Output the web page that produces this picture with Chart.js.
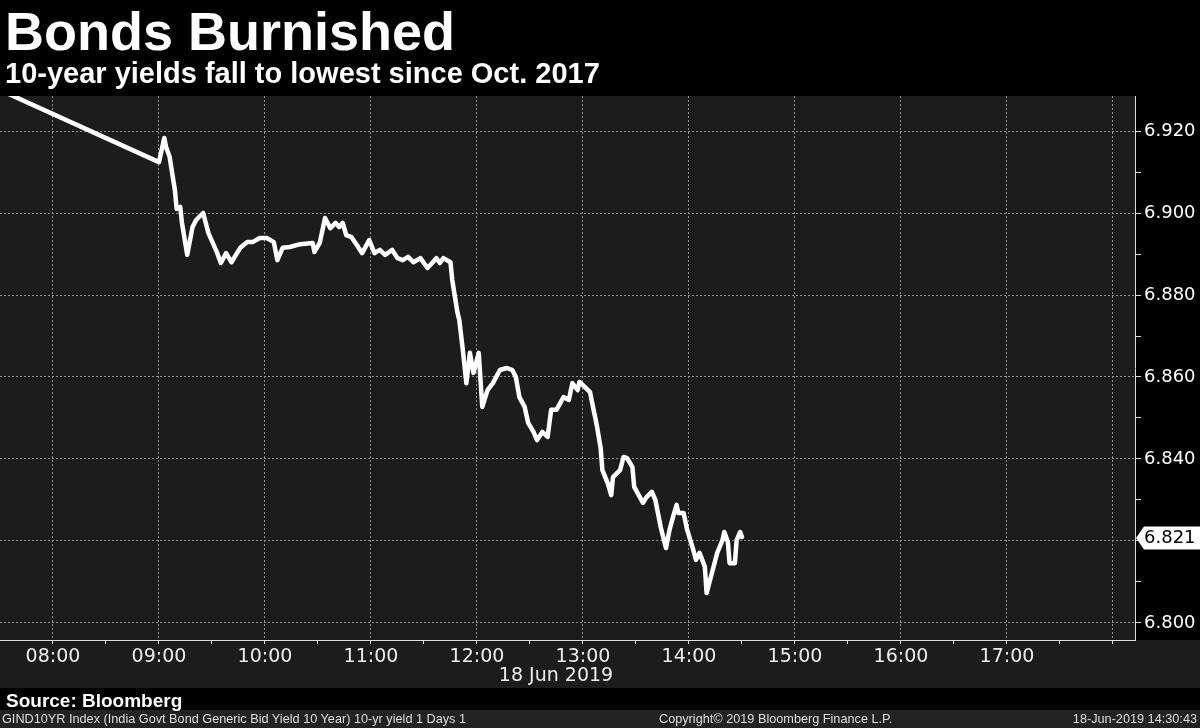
<!DOCTYPE html>
<html><head><meta charset="utf-8">
<script src="https://cdn.jsdelivr.net/npm/chart.js@4/dist/chart.umd.min.js"></script>
<style>
html,body{margin:0;padding:0;background:#000;width:1200px;height:728px;overflow:hidden;}
#wrap{position:relative;width:1200px;height:728px;}
canvas{position:absolute;left:0;top:0;}
#fband{position:absolute;left:0;top:710px;width:1200px;height:18px;background:#232323;}
.t{position:absolute;white-space:nowrap;font-family:"Liberation Sans",Arial,sans-serif;color:#fff;}
#title{left:5px;top:4px;font-size:54px;line-height:54px;font-weight:bold;}
#sub{left:5px;top:59px;font-size:29px;line-height:29px;font-weight:bold;}
#src{left:6px;top:691px;font-size:19px;line-height:19px;font-weight:bold;}
.f{top:713px;font-size:12.7px;line-height:13px;color:#dedede;}
</style></head>
<body><div id="wrap">
<div id="fband"></div>
<canvas id="c" width="1200" height="728"></canvas>
<div class="t" id="title">Bonds Burnished</div>
<div class="t" id="sub">10-year yields fall to lowest since Oct. 2017</div>
<div class="t" id="src">Source: Bloomberg</div>
<div class="t f" style="left:2px">GIND10YR Index (India Govt Bond Generic Bid Yield 10 Year) 10-yr yield 1 Days 1</div>
<div class="t f" style="left:659px">Copyright© 2019 Bloomberg Finance L.P.</div>
<div class="t f" style="right:3px">18-Jun-2019 14:30:43</div>
</div>
<script>
// ---- data ----
const timeLabels = [
 '07:30','09:00','09:03','09:04','09:06','09:09','09:10','09:12','09:13','09:16',
 '09:19','09:21','09:25','09:28','09:33','09:35','09:38','09:41','09:46','09:50',
 '09:53','09:57','10:01','10:05','10:07','10:10','10:14','10:20','10:27','10:28',
 '10:31','10:34','10:37','10:40','10:42','10:44','10:46','10:49','10:52','10:55',
 '10:59','11:02','11:05','11:08','11:12','11:15','11:18','11:21','11:24','11:28',
 '11:32','11:35','11:37','11:39','11:41','11:45','11:46','11:49','11:50','11:52',
 '11:54','11:56','11:58','12:01','12:03','12:06','12:09','12:13','12:17','12:20',
 '12:22','12:24','12:27','12:29','12:32','12:34','12:37','12:40','12:42','12:45',
 '12:49','12:52','12:54','12:57','12:58','13:01','13:04','13:06','13:07','13:08',
 '13:10','13:11','13:14','13:16','13:17','13:21','13:23','13:25','13:28','13:29',
 '13:34','13:36','13:39','13:41','13:44','13:47','13:49','13:51','13:53','13:54',
 '13:57','13:59','14:02','14:04','14:06','14:09','14:10','14:13','14:16','14:19',
 '14:20','14:22','14:23','14:26','14:27','14:29','14:30'
];
const yieldValues = [
 6.9300,6.9124,6.9183,6.9161,6.9137,6.9056,6.9010,6.9015,6.8976,6.8898,
 6.8966,6.8983,6.9000,6.8951,6.8902,6.8878,6.8902,6.8880,6.8915,6.8929,
 6.8929,6.8939,6.8939,6.8929,6.8885,6.8915,6.8917,6.8924,6.8927,6.8905,
 6.8927,6.8988,6.8963,6.8976,6.8966,6.8976,6.8946,6.8941,6.8922,6.8902,
 6.8934,6.8902,6.8910,6.8898,6.8910,6.8890,6.8885,6.8893,6.8880,6.8890,
 6.8866,6.8880,6.8890,6.8878,6.8890,6.8880,6.8837,6.8756,6.8739,6.8666,
 6.8585,6.8659,6.8610,6.8659,6.8527,6.8568,6.8585,6.8617,6.8622,6.8617,
 6.8600,6.8551,6.8527,6.8488,6.8466,6.8446,6.8466,6.8454,6.8520,6.8520,
 6.8551,6.8544,6.8585,6.8568,6.8588,6.8576,6.8563,6.8520,6.8500,6.8478,
 6.8427,6.8373,6.8341,6.8312,6.8356,6.8373,6.8405,6.8402,6.8380,6.8332,
 6.8293,6.8307,6.8320,6.8300,6.8234,6.8183,6.8227,6.8259,6.8288,6.8268,
 6.8268,6.8227,6.8185,6.8154,6.8171,6.8137,6.8073,6.8122,6.8171,6.8202,
 6.8222,6.8198,6.8146,6.8146,6.8202,6.8222,6.8210
];
const hourLabels = ['08:00','09:00','10:00','11:00','12:00','13:00','14:00','15:00','16:00','17:00'];
const yTickLabels = ['6.800','6.820','6.840','6.860','6.880','6.900','6.920'];
const dateLabel = '18 Jun 2019';
const lastLabel = '6.821';

// ---- helpers ----
const toMin = s => { const p = s.split(':').map(Number); return p[0]*60 + p[1]; };
const points = timeLabels.map((t,i) => ({x: toMin(t), y: yieldValues[i]}));
const hourMins = hourLabels.map(toMin);

const xMin = toMin('07:30'), xMax = toMin('18:00') + 12.5;
const yMin = 6.79585, yMax = 6.92854;

const bgPlugin = {
  id:'bg',
  beforeDraw(chart){
    const {ctx, chartArea:ca} = chart;
    const xs = chart.scales.x;
    ctx.save();
    ctx.fillStyle = '#1c1c1c';
    ctx.fillRect(ca.left, ca.top, ca.right-ca.left, ca.bottom-ca.top);
    ctx.fillRect(0, ca.bottom, chart.width, xs.bottom - ca.bottom);
    ctx.restore();
  },
  afterDraw(chart){
    const {ctx, chartArea:ca} = chart;
    const ys = chart.scales.y;
    const py = ys.getPixelForValue(yieldValues[yieldValues.length-1]) + 1;
    const x0 = ca.right + 1;
    ctx.save();
    ctx.fillStyle = '#ffffff';
    ctx.beginPath();
    ctx.moveTo(x0, py);
    ctx.lineTo(x0+8, py-11.5);
    ctx.lineTo(chart.width, py-11.5);
    ctx.lineTo(chart.width, py+11.5);
    ctx.lineTo(x0+8, py+11.5);
    ctx.closePath();
    ctx.fill();
    ctx.fillStyle = '#000';
    ctx.font = '18px "DejaVu Sans"';
    ctx.textBaseline = 'middle';
    ctx.textAlign = 'left';
    ctx.fillText(lastLabel, x0+8, py);
    // date label under the time axis
    ctx.fillStyle = '#ececec';
    ctx.font = '19px "DejaVu Sans"';
    ctx.textAlign = 'center';
    ctx.fillText(dateLabel, 556, 676);
    ctx.restore();
  }
};

new Chart(document.getElementById('c'), {
  type:'line',
  data:{datasets:[{
    data: points,
    borderColor:'#ffffff',
    borderWidth:4.5,
    pointRadius:0,
    tension:0,
    borderJoinStyle:'round',
    borderCapStyle:'round',
    clip:0
  }]},
  options:{
    responsive:false,
    animation:false,
    devicePixelRatio:1,
    layout:{padding:{top:96,bottom:40,left:0,right:0}},
    plugins:{legend:{display:false},tooltip:{enabled:false}},
    scales:{
      x:{
        type:'linear', min:xMin, max:xMax,
        afterBuildTicks: s => { const t=[]; for(let v=hourMins[0]; v<=toMin('18:00'); v+=30) t.push({value:v}); s.ticks=t; },
        afterFit: s => { s.height = 48; },
        grid:{
          color: c => (c.tick && c.tick.value % 60 === 0) ? '#8f8f8f' : 'rgba(0,0,0,0)',
          lineWidth:1, drawTicks:true, tickLength:4, tickColor:'#dcdcdc', tickWidth:1
        },
        border:{display:true, color:'#dcdcdc', width:1, dash:[2,2]},
        ticks:{
          autoSkip:false, maxRotation:0, minRotation:0, padding:2,
          color:'#ececec', font:{family:'DejaVu Sans', size:19},
          callback: v => { const i = hourMins.indexOf(v); return i >= 0 ? hourLabels[i] : ''; }
        }
      },
      y:{
        position:'right', min:yMin, max:yMax,
        afterBuildTicks: s => { const t=[]; for(let k=680; k<=692; k++) t.push({value:k/100}); s.ticks=t; },
        afterFit: s => { s.width = 65; },
        grid:{
          color: c => (c.tick && Math.round(c.tick.value*100) % 2 === 0) ? '#8f8f8f' : 'rgba(0,0,0,0)',
          lineWidth:1, drawTicks:true, tickLength:6, tickColor:'#dcdcdc', tickWidth:1
        },
        border:{display:true, color:'#dcdcdc', width:1, dash:[2,2]},
        ticks:{
          autoSkip:false, padding:3, color:'#ffffff', font:{family:'DejaVu Sans', size:18},
          callback: v => { const i = yTickLabels.indexOf(v.toFixed(3)); return i >= 0 ? yTickLabels[i] : ''; }
        }
      }
    }
  },
  plugins:[bgPlugin]
});
</script>
</body></html>
